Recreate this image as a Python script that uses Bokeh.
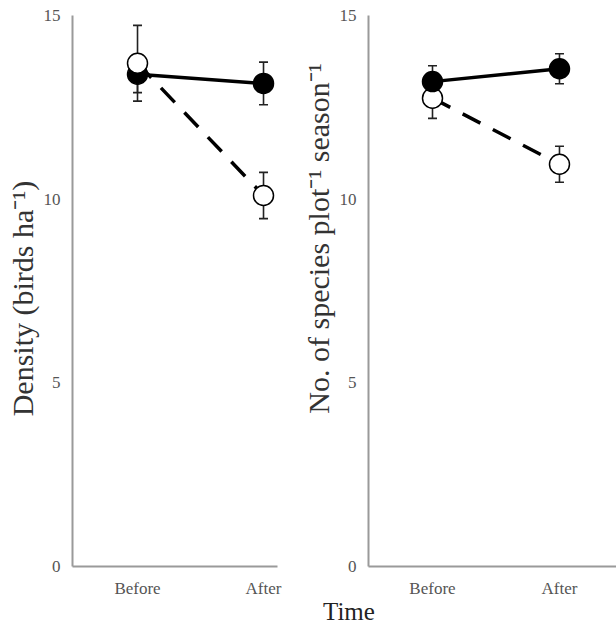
from bokeh.plotting import figure
from bokeh.layouts import row, column
from bokeh.models import Range1d, FixedTicker, Div
from bokeh.embed import file_html
from bokeh.resources import INLINE

# ---- data ----
periods = ["Before", "After"]
period_x = [1, 2]
y_ticks = [0, 5, 10, 15]

density_filled = [13.4, 13.15]
density_filled_se = [0.5, 0.58]
density_open = [13.7, 10.1]
density_open_se = [1.03, 0.63]

species_filled = [13.2, 13.55]
species_filled_se = [0.43, 0.41]
species_open = [12.75, 10.95]
species_open_se = [0.55, 0.49]

FONT = "Liberation Serif"
AXIS_COL = "#9a9a9a"
TXT_COL = "#555555"
EM = "\u2003"
EN = "\u2002"


def panel(width, border_left, border_right, x_start, x_end, ylabel, filled, filled_se,
          opened, opened_se, open_on_top, label_standoff, label_size):
    p = figure(width=width, height=600, output_backend="svg", toolbar_location=None,
               x_range=Range1d(x_start, x_end),
               y_range=Range1d(0, 15),
               min_border_left=border_left, min_border_right=border_right,
               min_border_top=15, min_border_bottom=34)
    p.outline_line_color = None
    p.grid.visible = False
    p.background_fill_color = "white"
    p.border_fill_color = "white"

    p.xaxis.ticker = FixedTicker(ticks=period_x)
    p.xaxis.major_label_overrides = {x: lab for x, lab in zip(period_x, periods)}
    p.yaxis.ticker = FixedTicker(ticks=y_ticks)
    for ax in (p.xaxis, p.yaxis):
        ax.axis_line_color = AXIS_COL
        ax.axis_line_width = 2
        ax.major_tick_line_color = None
        ax.minor_tick_line_color = None
        ax.major_label_text_font = FONT
        ax.major_label_text_font_size = "17px"
        ax.major_label_text_color = TXT_COL
    p.xaxis.major_label_standoff = 6
    p.yaxis.major_label_standoff = 6
    p.yaxis.axis_label = ylabel
    p.yaxis.axis_label_text_font = FONT
    p.yaxis.axis_label_text_font_size = label_size
    p.yaxis.axis_label_text_font_style = "normal"
    p.yaxis.axis_label_text_color = "#333333"
    p.yaxis.axis_label_standoff = label_standoff

    # lines
    p.line(period_x, filled, line_color="black", line_width=3.5)
    p.line(period_x, opened, line_color="black", line_width=3.5, line_dash="20 14")

    def errs(vals, se):
        lo = [v - s for v, s in zip(vals, se)]
        hi = [v + s for v, s in zip(vals, se)]
        p.segment(period_x, lo, period_x, hi, line_color="#222222", line_width=1.6)
        p.scatter(period_x, lo, marker="dash", size=9, line_color="#222222", line_width=1.6)
        p.scatter(period_x, hi, marker="dash", size=9, line_color="#222222", line_width=1.6)

    errs(filled, filled_se)
    errs(opened, opened_se)

    def filled_pts():
        p.scatter(period_x, filled, size=20, fill_color="black", line_color="black", line_width=1.5)

    def open_pts():
        p.scatter(period_x, opened, size=20, fill_color="white", line_color="black", line_width=1.5)

    if open_on_top:
        filled_pts(); open_pts()
    else:
        open_pts(); filled_pts()
    return p


p1 = panel(296, 72, 19, 0.484, 2.111, "Density (birds ha\u207b\u00b9)" + EN,
           density_filled, density_filled_se, density_open, density_open_se, True, 2, "30px")
p2 = panel(320, 72, 0, 0.496, 2.449, EM * 3 + EN + "No. of species plot\u207b\u00b9 season\u207b\u00b9",
           species_filled, species_filled_se, species_open, species_open_se, False, 2, "30px")

time_div = Div(text="<div style='font-family:\"Liberation Serif\"; font-size:25px; color:#222; "
                    "line-height:24px; padding-left:323px;'>Time</div>",
               width=616, height=30, margin=(0, 0, 0, 0))

layout = column(row(p1, p2), time_div)
open("out.html", "w").write(file_html(layout, INLINE))
